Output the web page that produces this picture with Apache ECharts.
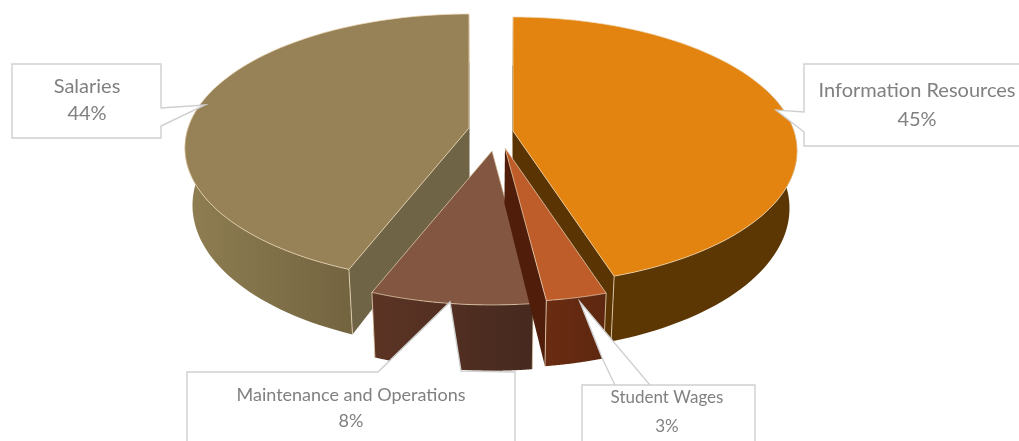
<!DOCTYPE html>
<html><head><meta charset="utf-8">
<style>html,body{margin:0;padding:0;background:#fff;overflow:hidden}#c{width:1019px;height:441px;filter:blur(0.5px)}</style>
<script src="https://cdn.jsdelivr.net/npm/echarts@6/dist/echarts.min.js"></script>
</head><body><div id="c"></div>
<script>
// clockwise from 12 o'clock
const categories = ['Information Resources', 'Student Wages', 'Maintenance and Operations', 'Salaries'];
const shares = [45, 3, 8, 44];

// presentation
const topColors = ['#E2840F', '#BE5C2A', '#825640', '#978257'];
const wallColors = [
  ['#5C3704', '#5C3704'], ['#6A2C12', '#5E2710'],
  ['#5C3424', '#46291F'], ['#8F7E52', '#736440']
];
const innerWall = ['#5A3503', '#4F1D0A', '#46291F', '#706446'];
const apexes = [[513, 131], [505, 148], [492, 151], [469, 128]];
const paintOrder = [3, 0, 2, 1];
const A = 281, B = 131, K = 0.149, H = 56, CX = 491, SHRINK = 0.975;
const edge = 'rgba(238,218,186,0.8)';
const labelColor = '#808080';

const callouts = [
  {pts: [[804,64],[1030,64],[1030,146],[804,146],[804,132],[776,110],[804,112]],
   tx: 917, ty: [91, 120], size: 20},
  {pts: [[582,385],[650,385],[580,302],[603,360],[615,385],[582,385],[582,450],[755,450],[755,385],[650,385]],
   tx: 667, ty: [398, 427], size: 17},
  {pts: [[187,372],[378,372],[450,302],[461,371],[515,372],[515,450],[187,450]],
   tx: 351, ty: [395, 421], size: 18},
  {pts: [[12,64],[161,64],[161,108],[205,105],[161,126],[161,138],[12,138]],
   tx: 87, ty: [87, 114], size: 20}
];

function project(apex, th, r, drop) {
  const s = Math.sin(th), c = Math.cos(th), w = 1 + K * s * r;
  let x = apex[0] + A * c * r / w;
  let y = apex[1] - B * s * r / w;
  if (drop) {
    y += H / w;
    x = CX + (x - CX) * SHRINK;
  }
  return [x, y];
}
const total = shares.reduce((a, b) => a + b, 0);
function sliceAngles(i) {
  const before = shares.slice(0, i).reduce((a, b) => a + b, 0);
  const start = Math.PI / 2 - before / total * 2 * Math.PI;
  return [start, start - shares[i] / total * 2 * Math.PI];
}
function renderSlice(params, api) {
  const i = api.value(0);
  const [a0, a1] = sliceAngles(i);
  const apex = apexes[i];
  const top = [], bot = [], N = 90;
  for (let n = 0; n <= N; n++) {
    const t = a0 + (a1 - a0) * n / N;
    top.push(project(apex, t, 1, false));
    bot.push(project(apex, t, 1, true));
  }
  const c0 = project(apex, 0, 0, false), c1 = project(apex, 0, 0, true);
  const children = [];
  const wall = (pts, fill) => children.push({type: 'polygon', shape: {points: pts}, style: {fill}});
  const seam = (p, q) => children.push({type: 'line', shape: {x1: p[0], y1: p[1], x2: q[0], y2: q[1]},
    style: {stroke: edge, lineWidth: 1}});
  wall([c0, top[0], bot[0], c1], innerWall[i]);
  wall([c0, top[N], bot[N], c1], innerWall[i]);
  const front = [];
  for (let n = 0; n <= N; n++) {
    if (Math.sin(a0 + (a1 - a0) * n / N) < 0.35) front.push(n);
  }
  if (front.length) {
    const pts = front.map(n => top[n]).concat(front.slice().reverse().map(n => bot[n]));
    const [ca, cb] = wallColors[i];
    wall(pts, new echarts.graphic.LinearGradient(0, 0, 1, 0, [{offset: 0, color: ca}, {offset: 1, color: cb}]));
  }
  seam(top[0], bot[0]);
  seam(top[N], bot[N]);
  children.push({type: 'polygon', shape: {points: [c0].concat(top)},
    style: {fill: topColors[i], stroke: edge, lineWidth: 0.9}});
  return {type: 'group', children};
}
function renderCallout(params, api) {
  const i = api.value(0), c = callouts[i];
  return {type: 'group', children: [
    {type: 'polygon', shape: {points: c.pts},
     style: {fill: '#fff', stroke: '#cfcfcf', lineWidth: 1.4, lineJoin: 'miter'}},
    {type: 'text', style: {text: categories[i], x: c.tx, y: c.ty[0], align: 'center', verticalAlign: 'middle',
      fill: labelColor, font: c.size + 'px Lato'}},
    {type: 'text', style: {text: shares[i] + '%', x: c.tx, y: c.ty[1], align: 'center', verticalAlign: 'middle',
      fill: labelColor, font: c.size + 'px Lato'}}
  ]};
}
const chart = echarts.init(document.getElementById('c'), null, {renderer: 'canvas'});
chart.setOption({
  animation: false, backgroundColor: '#fff',
  series: [
    {type: 'custom', coordinateSystem: 'none', silent: true, renderItem: renderSlice, clip: false,
     data: paintOrder.map(i => ({value: [i, shares[i]], name: categories[i]}))},
    {type: 'custom', coordinateSystem: 'none', silent: true, renderItem: renderCallout, clip: false, z: 5,
     data: categories.map((n, i) => ({value: [i, shares[i]], name: n}))}
  ]
});
</script></body></html>
